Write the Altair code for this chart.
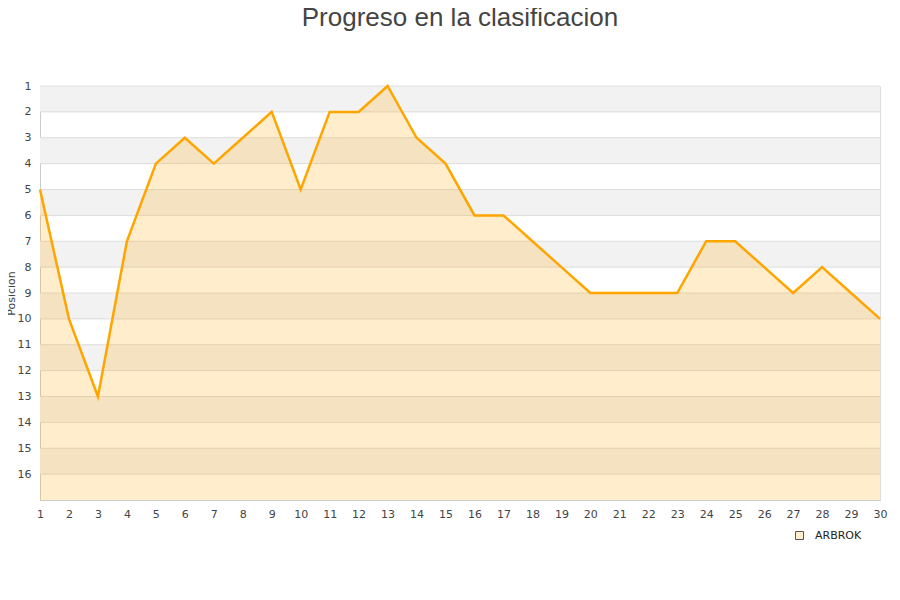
import altair as alt
import pandas as pd

jornadas = list(range(1, 31))
posiciones = [5, 10, 13, 7, 4, 3, 4, 3, 2, 5, 2, 2, 1, 3, 4, 6, 6, 7, 8, 9,
              9, 9, 9, 7, 7, 8, 9, 8, 9, 10]
equipo = "ARBROK"
band_starts = [1, 3, 5, 7, 9, 11, 13, 15]
y_ticks = list(range(1, 17))

df = pd.DataFrame({"jornada": jornadas, "pos": posiciones, "equipo": equipo})
bands = pd.DataFrame({"y": band_starts, "y2": [b + 1 for b in band_starts]})
grid = pd.DataFrame({"y": y_ticks})

W, H = 840, 414
yscale = alt.Scale(domain=[1, 17], reverse=True, nice=False, zero=False)
xscale = alt.Scale(domain=[1, 30], nice=False, zero=False)

font = "DejaVu Sans"

X_AX = alt.Axis(values=jornadas, title=None, labelOverlap=False,
                labelFlush=False, format="d", labelPadding=8)
Y_AX = alt.Axis(values=y_ticks, title="Posicion", labelOverlap=False,
                labelFlush=False, format="d", labelPadding=9,
                titleX=-24, titleY=207, titleAngle=-90,
                titleAlign="center", titleBaseline="bottom")

band_layer = alt.Chart(bands).mark_rect(color="#f2f2f2").encode(
    x=alt.value(0), x2=alt.value(W),
    y=alt.Y("y:Q", scale=yscale, axis=Y_AX),
    y2="y2:Q",
)

grid_layer = alt.Chart(grid).mark_rule(color="#dddddd", strokeWidth=1).encode(
    x=alt.value(0), x2=alt.value(W),
    y=alt.Y("y:Q", scale=yscale, axis=Y_AX),
)

area_layer = alt.Chart(df).mark_area(color="#FFA500", opacity=0.2).encode(
    x=alt.X("jornada:Q", scale=xscale, axis=X_AX),
    y=alt.Y("pos:Q", scale=yscale, axis=Y_AX),
    y2=alt.Y2(datum=17),
)

line_layer = alt.Chart(df).mark_line(color="#FFA500", strokeWidth=2.5).encode(
    x=alt.X("jornada:Q", scale=xscale, axis=X_AX),
    y=alt.Y("pos:Q", scale=yscale, axis=Y_AX),
)

legend_layer = alt.Chart(df).mark_square(size=0, opacity=1, filled=True).encode(
    x=alt.X("jornada:Q", scale=xscale, axis=X_AX),
    y=alt.Y("pos:Q", scale=yscale, axis=Y_AX),
    color=alt.Color("equipo:N",
                    scale=alt.Scale(range=["#FFEDCC"]),
                    legend=alt.Legend(title=None, orient="none",
                                      legendX=754, legendY=444,
                                      symbolType="square", symbolSize=64,
                                      symbolStrokeColor="#555555",
                                      symbolStrokeWidth=1,
                                      symbolOpacity=1,
                                      labelFontSize=11, labelColor="#222222",
                                      labelFont=font, labelOffset=10)),
)

chart = alt.layer(band_layer, grid_layer, area_layer, line_layer, legend_layer).properties(
    width=W, height=H,
    title=alt.TitleParams("Progreso en la clasificacion", fontSize=26,
                          font="Liberation Sans", fontWeight="normal",
                          color="#444444", anchor="middle", offset=49),
    autosize=alt.AutoSizeParams(type="none"),
    padding={"left": 32, "top": 78, "right": 12, "bottom": 92},
).configure_view(stroke="#dddddd", strokeWidth=1).configure_axis(
    grid=False, ticks=False, domain=True, domainColor="#cccccc",
    labelColor="#444444", labelFontSize=11, labelFont=font,
    labelOverlap=False, labelFlush=False,
    titleFontSize=11, titleFontWeight="normal", titleColor="#444444",
    titleFont=font,
)

chart.save("out.html", embed_options={"renderer": "svg", "actions": False})
